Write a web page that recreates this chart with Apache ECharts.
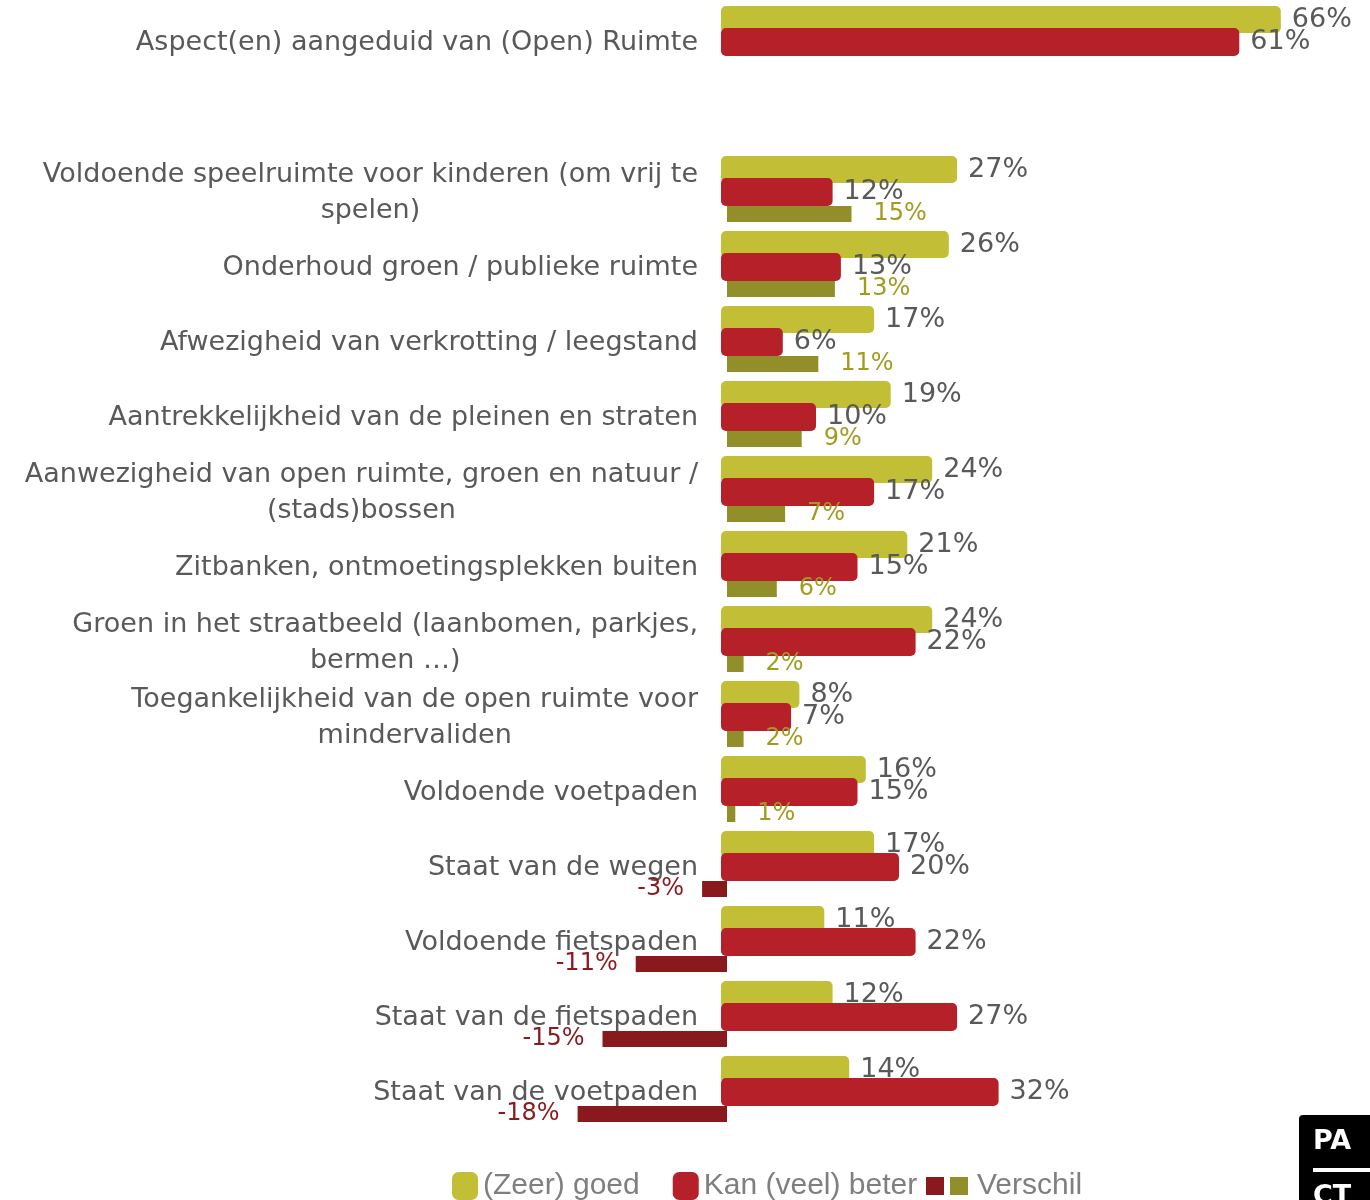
<!DOCTYPE html>
<html lang="nl">
<head>
    <meta charset="utf-8"/>
    <title>Open ruimte</title>
    <script src="https://cdn.jsdelivr.net/npm/echarts@6/dist/echarts.min.js"></script>
    <style>
        html, body { margin: 0; padding: 0; background: #fff; }
        #chart { width: 1370px; height: 1200px; }
    </style>
</head>
<body>
<div id="chart"></div>
<script>
    // categorieën (index 1 is een lege rij als scheiding)
    const categories = [
        'Aspect(en) aangeduid van (Open) Ruimte',
        '',
        'Voldoende speelruimte voor kinderen (om vrij te\nspelen)',
        'Onderhoud groen / publieke ruimte',
        'Afwezigheid van verkrotting / leegstand',
        'Aantrekkelijkheid van de pleinen en straten',
        'Aanwezigheid van open ruimte, groen en natuur /\n(stads)bossen',
        'Zitbanken, ontmoetingsplekken buiten',
        'Groen in het straatbeeld (laanbomen, parkjes,\nbermen …)',
        'Toegankelijkheid van de open ruimte voor\nmindervaliden',
        'Voldoende voetpaden',
        'Staat van de wegen',
        'Voldoende fietspaden',
        'Staat van de fietspaden',
        'Staat van de voetpaden'
    ];
    const goed     = [66, null, 27, 26, 17, 19, 24, 21, 24, 8, 16, 17, 11, 12, 14];
    const beter    = [61, null, 12, 13, 6, 10, 17, 15, 22, 7, 15, 20, 22, 27, 32];
    const verschil = [null, null, 15, 13, 11, 9, 7, 6, 2, 2, 1, -3, -11, -15, -18];

    const verschilPos = verschil.map(v => (v != null && v > 0) ? v : null);
    const verschilNeg = verschil.map(v => (v != null && v < 0) ? v : null);

    const grey = '#595959';
    const chart = echarts.init(document.getElementById('chart'));

    const valueLabel = (pos, dist, color, size) => ({
        show: true,
        position: pos,
        distance: dist,
        formatter: '{c}%',
        color: color,
        fontFamily: 'DejaVu Sans',
        fontSize: size
    });

    const option = {
        animation: false,
        grid: [
            { left: 561, top: -6.5, width: 747, height: 1125, outerBoundsMode: 'none' },
            { left: 561, top: 26.5, width: 747, height: 1125, outerBoundsMode: 'none' }
        ],
        xAxis: [
            // hoofdbalken: nul op x=733, start bij x=721
            { type: 'value', gridIndex: 0, min: -20.7229, max: 69.2771, startValue: -1.4458, show: false },
            // verschil: nul op x=727
            { type: 'value', gridIndex: 1, min: -20, max: 70, show: false }
        ],
        yAxis: [
            {
                type: 'category', gridIndex: 0, inverse: true, data: categories,
                offset: -166,
                axisLine: { show: false }, axisTick: { show: false }, splitLine: { show: false },
                axisLabel: {
                    interval: 0,
                    margin: 29,
                    padding: [24, 0, 0, 0],
                    formatter: v => v.split('\n').map(s => '{c|' + s + '}').join('\n'),
                    rich: {
                        c: { fontFamily: 'DejaVu Sans', fontSize: 27, color: grey, lineHeight: 36, align: 'center' }
                    }
                }
            },
            { type: 'category', gridIndex: 1, inverse: true, data: categories, show: false }
        ],
        legend: [
            {
                left: 452, top: 1171, padding: 0,
                itemWidth: 26, itemHeight: 28, itemGap: 33,
                icon: 'roundRect',
                data: ['(Zeer) goed', 'Kan (veel) beter'],
                textStyle: { fontFamily: 'Liberation Sans', fontSize: 30, color: '#7f7f7f' },
                selectedMode: false
            },
            {
                left: 926, top: 1171, padding: 0,
                itemWidth: 18, itemHeight: 18, itemGap: 6,
                icon: 'rect',
                data: ['Verschil-', 'Verschil'],
                formatter: n => n === 'Verschil' ? n : '',
                textStyle: { fontFamily: 'Liberation Sans', fontSize: 30, color: '#7f7f7f', padding: [0, 0, 0, 4] },
                selectedMode: false
            }
        ],
        series: [
            {
                name: '(Zeer) goed', type: 'bar', xAxisIndex: 0, yAxisIndex: 0,
                data: goed, barWidth: 27, barGap: '-18.5%',
                itemStyle: { color: '#c2bf37', borderRadius: 5 },
                label: valueLabel('right', 11, grey, 27)
            },
            {
                name: 'Kan (veel) beter', type: 'bar', xAxisIndex: 0, yAxisIndex: 0,
                data: beter, barWidth: 28, barGap: '-18.5%',
                itemStyle: { color: '#b52029', borderRadius: 5 },
                label: valueLabel('right', 11, grey, 27)
            },
            {
                name: 'Verschil-', type: 'bar', xAxisIndex: 1, yAxisIndex: 1, stack: 'v',
                data: verschilNeg, barWidth: 16,
                itemStyle: { color: '#8a191d' },
                label: valueLabel('left', 18, '#8b1a1f', 24)
            },
            {
                name: 'Verschil', type: 'bar', xAxisIndex: 1, yAxisIndex: 1, stack: 'v',
                data: verschilPos, barWidth: 16,
                itemStyle: { color: '#928e2a' },
                label: valueLabel('right', 22, '#a09c20', 24)
            }
        ],
        graphic: [
            // logo rechtsonder
            { type: 'rect', left: 1299, top: 1115, shape: { width: 80, height: 90, r: [4, 0, 0, 0] }, style: { fill: '#000' } },
            { type: 'text', left: 1313, top: 1128, style: { text: 'PA', fill: '#fff', font: 'bold 27px "DejaVu Sans"' } },
            { type: 'rect', left: 1313, top: 1168, shape: { width: 60, height: 4 }, style: { fill: '#fff' } },
            { type: 'text', left: 1313, top: 1183, style: { text: 'CT', fill: '#fff', font: 'bold 27px "DejaVu Sans"' } }
        ]
    };
    chart.setOption(option);
</script>
</body>
</html>
